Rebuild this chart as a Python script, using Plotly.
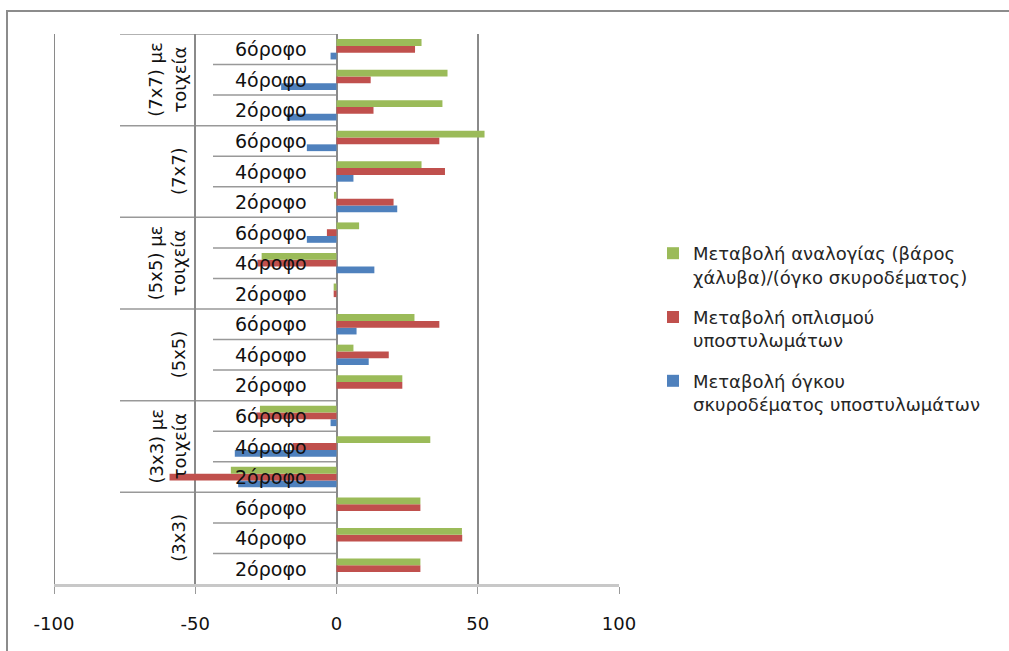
import plotly.graph_objects as go

# Layout groups (bottom to top) and storey variants inside each group
groups = ["(3x3)", "(3x3) με<br>τοιχεία", "(5x5)", "(5x5) με<br>τοιχεία", "(7x7)", "(7x7) με<br>τοιχεία"]
storeys = ["2όροφο", "4όροφο", "6όροφο"]

series_names = [
    "Μεταβολή όγκου<br>σκυροδέματος υποστυλωμάτων",
    "Μεταβολή οπλισμού<br>υποστυλωμάτων",
    "Μεταβολή αναλογίας (βάρος<br>χάλυβα)/(όγκο σκυροδέματος)",
]

# Values (%) in category order: group by group, 2/4/6 storeys
concrete_change = [0, 0, 0,
                   -34.8, -36.0, -2.1,
                   0, 11.4, 7.1,
                   0, 13.4, -10.5,
                   21.5, 6.0, -10.5,
                   -17.6, -19.6, -2.1]
rebar_change = [29.7, 44.5, 29.7,
                -59.1, -15.5, -28.4,
                23.3, 18.5, 36.4,
                -1.0, -28.0, -3.4,
                20.2, 38.4, 36.4,
                13.1, 12.1, 27.8]
ratio_change = [29.7, 44.4, 29.7,
                -37.4, 33.2, -27.1,
                23.3, 6.0, 27.6,
                -1.0, -26.5, 8.0,
                -0.9, 30.1, 52.4,
                37.5, 39.3, 30.1]

x_ticks = [-100, -50, 0, 50, 100]

colors = ["#4F81BD", "#C0504D", "#9BBB59"]
FONT = "DejaVu Sans"

n_cat = len(groups) * len(storeys)
ypos = list(range(n_cat))

# plot-area geometry in pixels (used to place the category table)
W, H = 1009, 651
L, R, T, B = 54, 390, 34, 67
PW = W - L - R
PH = H - T - B


def px_x(px):
    return x_ticks[0] + (px - L) / PW * (x_ticks[-1] - x_ticks[0])


def px_paper_x(px):
    return (px - L) / PW


def px_paper_y(py):
    return (H - B - py) / PH


fig = go.Figure()
series = [concrete_change, rebar_change, ratio_change]
for k, (name, vals, col) in enumerate(zip(series_names, series, colors)):
    fig.add_trace(go.Bar(
        y=ypos, x=vals, orientation="h", name=name,
        marker=dict(color=col, line=dict(width=0)),
        legendgroup=f"s{k}", legendrank=10 - k,
    ))

shapes = []
line_style = dict(color="#999999", width=1.5)
# horizontal separators of the category table
for k in range(1, n_cat + 1):
    yb = k - 0.5
    if k % 3 == 0:
        x_start = px_x(120)
    else:
        x_start = px_x(213)
    shapes.append(dict(type="line", xref="x", yref="y", x0=x_start, x1=0, y0=yb, y1=yb,
                       line=line_style, layer="below"))

# left edge of the plot area
shapes.append(dict(type="line", xref="x", yref="paper", x0=x_ticks[0], x1=x_ticks[0],
                   y0=0, y1=1, line=dict(color="#8A8A8A", width=2), layer="below"))

# outer chart frame
shapes.append(dict(type="rect", xref="paper", yref="paper",
                   x0=px_paper_x(7), x1=px_paper_x(1100),
                   y0=px_paper_y(700), y1=px_paper_y(11),
                   line=dict(color="#8C8C8C", width=2), fillcolor="rgba(0,0,0,0)"))

annotations = []
for gi, g in enumerate(groups):
    for si, s in enumerate(storeys):
        idx = gi * 3 + si
        annotations.append(dict(
            x=px_x(271), y=idx, xref="x", yref="y", text=s, showarrow=False,
            xanchor="center", yanchor="middle",
            font=dict(family=FONT, size=19, color="#111111"),
        ))
    annotations.append(dict(
        x=px_x(191), y=gi * 3 + 1, xref="x", yref="y", text=g, showarrow=False,
        textangle=-90, xanchor="right", yanchor="middle", align="center",
        font=dict(family=FONT, size=18, color="#111111"),
    ))

fig.update_layout(
    width=W, height=H, autosize=False,
    margin=dict(l=L, r=R, t=T, b=B, pad=0),
    paper_bgcolor="white", plot_bgcolor="white",
    barmode="group", bargap=1.5 / 4.5, bargroupgap=0,
    shapes=shapes, annotations=annotations,
    legend=dict(
        x=px_paper_x(653), y=px_paper_y(235), xanchor="left", yanchor="top",
        traceorder="grouped", tracegroupgap=14, valign="top",
        font=dict(family=FONT, size=18, color="#262626"),
        bgcolor="rgba(0,0,0,0)",
    ),
    xaxis=dict(
        range=[x_ticks[0], x_ticks[-1]], tickvals=x_ticks,
        ticktext=[str(v) for v in x_ticks],
        showgrid=True, gridcolor="#8A8A8A", gridwidth=2,
        zeroline=True, zerolinecolor="#8A8A8A", zerolinewidth=2,
        showline=True, linecolor="#C8C8C8", linewidth=3,
        ticks="outside", ticklen=7, tickcolor="#9A9A9A", tickwidth=1,
        ticklabelstandoff=14,
        tickfont=dict(family=FONT, size=18, color="#111111"),
        fixedrange=True,
    ),
    yaxis=dict(
        range=[-0.5, n_cat - 0.5], showticklabels=False, showgrid=False,
        zeroline=False, showline=False, ticks="", fixedrange=True,
    ),
)

fig.write_html("out.html")
